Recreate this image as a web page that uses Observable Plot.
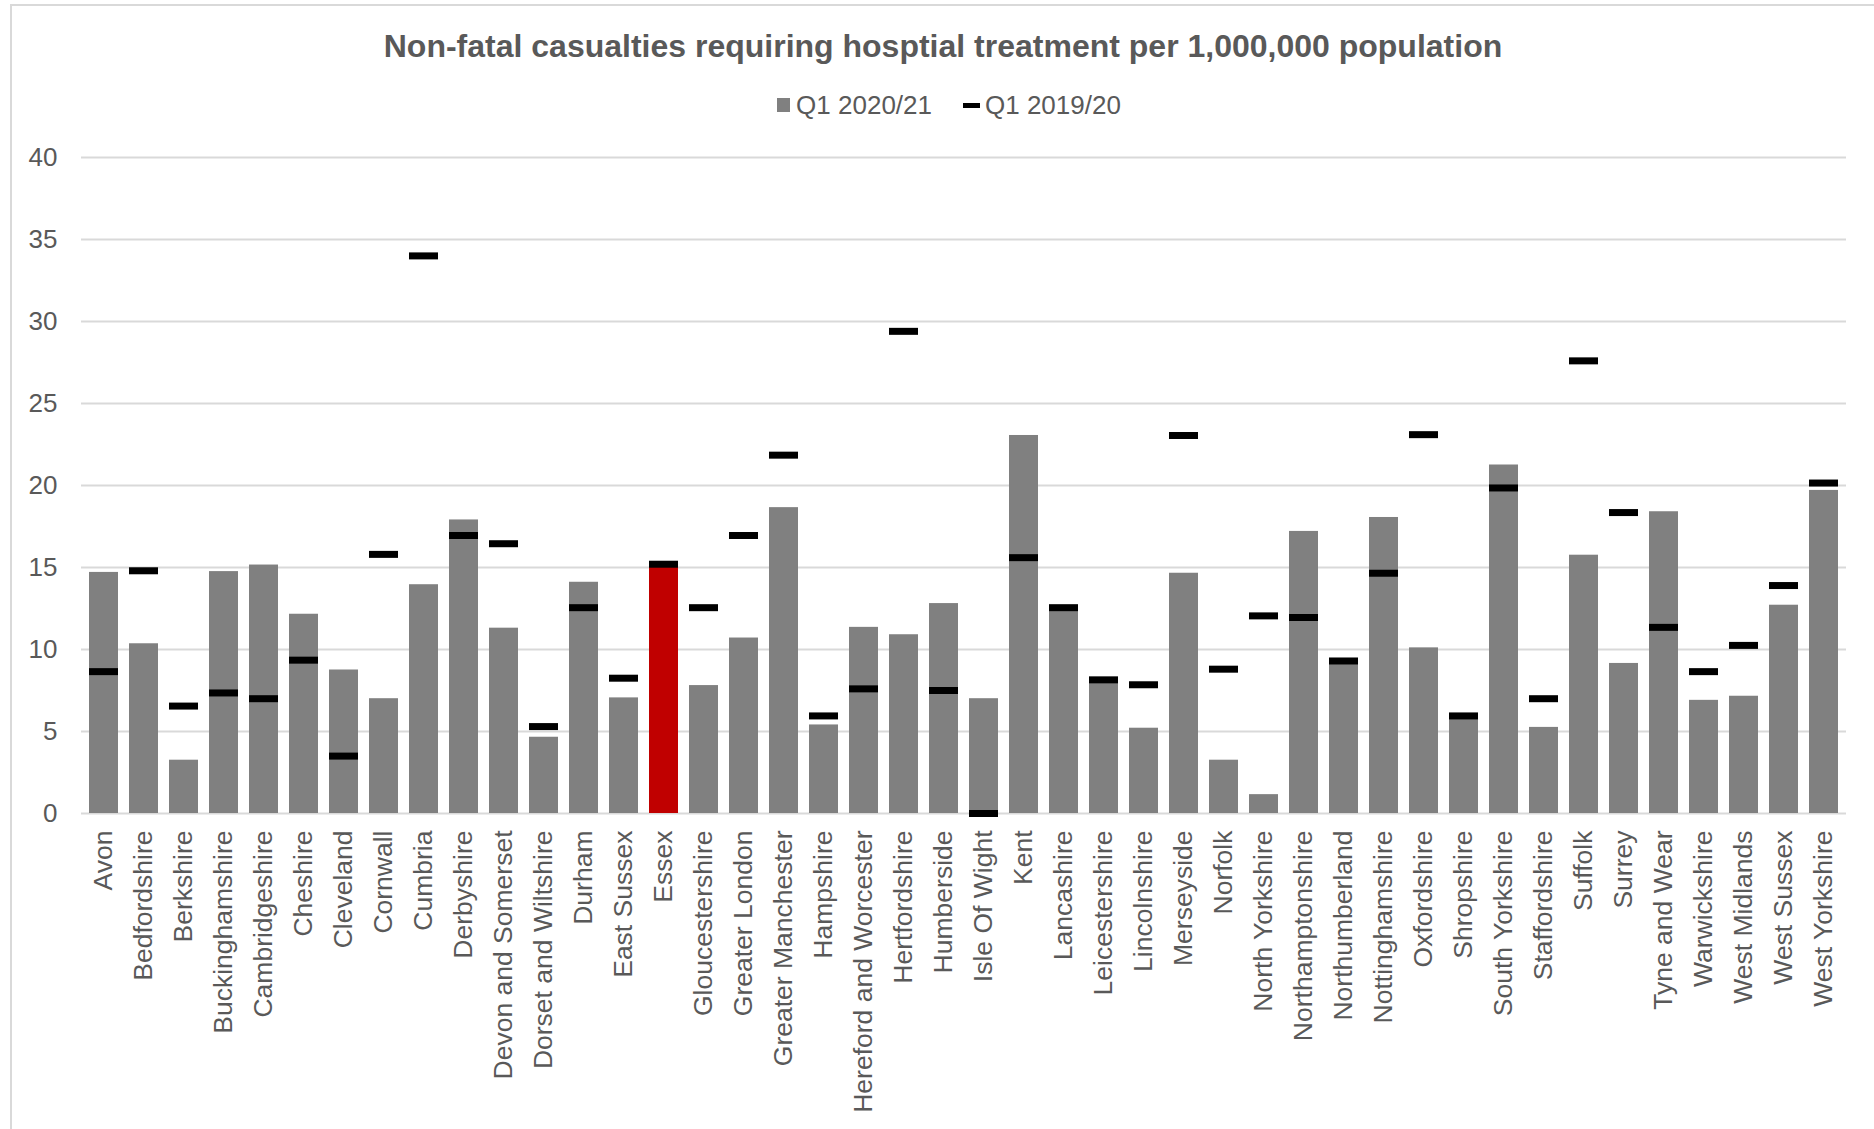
<!DOCTYPE html>
<html>
<head>
<meta charset="utf-8">
<script src="https://cdn.jsdelivr.net/npm/d3@7"></script>
<script src="https://cdn.jsdelivr.net/npm/@observablehq/plot@0.6"></script>
<style>
  html, body { margin: 0; padding: 0; background: #fff; }
  body { width: 1874px; height: 1129px; overflow: hidden; font-family: "Liberation Sans", Arial, sans-serif; }
  #wrap { position: relative; width: 1874px; height: 1129px; }
  #frame { position: absolute; left: 10px; top: 4px; width: 1880px; height: 1140px; border: 2px solid #d9d9d9; box-sizing: border-box; }
  #title { position: absolute; left: 6px; width: 1874px; top: 28px; text-align: center; font-weight: bold; font-size: 32px; line-height: 36px; color: #595959; }
  #legend { position: absolute; left: 12px; width: 1874px; top: 90px; height: 30px; display: flex; justify-content: center; align-items: center; font-size: 26px; line-height: 30px; color: #595959; white-space: nowrap; }
  .item { display: flex; align-items: center; }
  .item + .item { margin-left: 31px; }
  .sw-bar { display: inline-block; width: 13px; height: 14px; background: #808080; margin-right: 6px; }
  .sw-tick { display: inline-block; width: 17px; height: 5px; background: #000; margin-right: 5px; }
  #chart { position: absolute; left: 0; top: 130px; }
</style>
</head>
<body>
<div id="wrap">
  <div id="frame"></div>
  <div id="title">Non-fatal casualties requiring hosptial treatment per 1,000,000 population</div>
  <div id="legend"></div>
  <div id="chart"></div>
</div>
<script>
const regions = [
  "Avon", "Bedfordshire", "Berkshire", "Buckinghamshire", "Cambridgeshire", "Cheshire",
  "Cleveland", "Cornwall", "Cumbria", "Derbyshire", "Devon and Somerset", "Dorset and Wiltshire",
  "Durham", "East Sussex", "Essex", "Gloucestershire", "Greater London", "Greater Manchester",
  "Hampshire", "Hereford and Worcester", "Hertfordshire", "Humberside", "Isle Of Wight", "Kent",
  "Lancashire", "Leicestershire", "Lincolnshire", "Merseyside", "Norfolk", "North Yorkshire",
  "Northamptonshire", "Northumberland", "Nottinghamshire", "Oxfordshire", "Shropshire",
  "South Yorkshire", "Staffordshire", "Suffolk", "Surrey", "Tyne and Wear", "Warwickshire",
  "West Midlands", "West Sussex", "West Yorkshire"
];
const q1_2020_21 = [
  14.7, 10.35, 3.25, 14.75, 15.15, 12.15,
  8.75, 7.0, 13.95, 17.9, 11.3, 4.65,
  14.1, 7.05, 15.0, 7.8, 10.7, 18.65,
  5.4, 11.35, 10.9, 12.8, 7.0, 23.05,
  12.4, 8.0, 5.2, 14.65, 3.25, 1.15,
  17.2, 9.1, 18.05, 10.1, 5.8,
  21.25, 5.25, 15.75, 9.15, 18.4, 6.9,
  7.15, 12.7, 19.7
];
const q1_2019_20 = [
  8.65, 14.8, 6.55, 7.35, 7.0, 9.35,
  3.5, 15.8, 34.0, 16.95, 16.45, 5.3,
  12.55, 8.25, 15.2, 12.55, 16.95, 21.85,
  5.95, 7.6, 29.4, 7.5, 0, 15.6,
  12.55, 8.15, 7.85, 23.05, 8.8, 12.05,
  11.95, 9.3, 14.65, 23.1, 5.95,
  19.85, 7.0, 27.6, 18.35, 11.35, 8.65,
  10.25, 13.9, 20.15
];
const highlighted = "Essex";
const seriesNames = ["Q1 2020/21", "Q1 2019/20"];
const yTicks = [0, 5, 10, 15, 20, 25, 30, 35, 40];

const rows = regions.map((r, i) => ({region: r, cur: q1_2020_21[i], prev: q1_2019_20[i]}));

document.getElementById("legend").innerHTML =
  `<span class="item"><span class="sw-bar"></span>${seriesNames[0]}</span>` +
  `<span class="item"><span class="sw-tick"></span>${seriesNames[1]}</span>`;

const chart = Plot.plot({
  width: 1874,
  height: 999,
  marginTop: 27,
  marginBottom: 316,
  marginLeft: 81,
  marginRight: 28,
  style: {fontFamily: '"Liberation Sans", Arial, sans-serif', fontSize: "26px", color: "#595959", background: "transparent"},
  x: {domain: regions, paddingInner: 0.27, paddingOuter: 0.135, label: null},
  y: {domain: [0, 40], ticks: yTicks, label: null},
  marks: [
    Plot.gridY(yTicks, {stroke: "#d9d9d9", strokeOpacity: 1, strokeWidth: 2}),
    Plot.barY(rows, {x: "region", y: "cur", fill: d => d.region === highlighted ? "#C00000" : "#808080"}),
    Plot.tickY(rows, {x: "region", y: "prev", stroke: "#000", strokeWidth: 7}),
    Plot.axisY({ticks: yTicks, tickSize: 0, tickPadding: 24, fontSize: 26, label: null}),
    Plot.axisX({tickSize: 0, tickPadding: 17, tickRotate: -90, fontSize: 26.5, label: null})
  ]
});
document.getElementById("chart").appendChild(chart);
</script>
</body>
</html>
